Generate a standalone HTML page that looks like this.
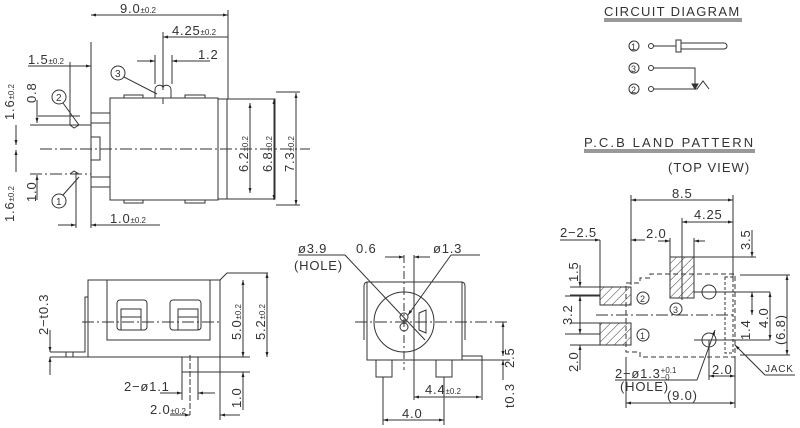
<!DOCTYPE html>
<html><head><meta charset="utf-8"><style>
html,body{margin:0;padding:0;background:#fff;}
svg{display:block;font-family:"Liberation Sans",sans-serif;}
text{fill:#333;font-size:13px;letter-spacing:0.8px;}
.s{font-size:8px;letter-spacing:0;}
</style></head><body>
<svg width="800" height="428" viewBox="0 0 800 428" xmlns="http://www.w3.org/2000/svg">
<defs>
<marker id="a" viewBox="0 0 10 10" refX="10" refY="5" markerWidth="7" markerHeight="5" orient="auto-start-reverse"><path d="M0,2 L10,5 L0,8z" fill="#222"/></marker>
<pattern id="h" width="6" height="6" patternUnits="userSpaceOnUse" patternTransform="rotate(45)"><line x1="0" y1="0" x2="0" y2="6" stroke="#333" stroke-width="1"/></pattern>
</defs>
<g stroke="#333" stroke-width="1" fill="none">
<rect x="110" y="98" width="108" height="102"/>
<rect x="218" y="99" width="57" height="100"/>
<line x1="227" y1="99" x2="227" y2="199"/>
<rect x="124" y="95" width="19" height="3"/><rect x="185" y="95" width="20" height="3"/>
<rect x="124" y="200" width="19" height="3"/><rect x="185" y="200" width="20" height="3"/>
<line x1="91" y1="42" x2="91" y2="228"/>
<path d="M91,113 H110 M91,123 H110 M91,177 H110 M91,187 H110"/>
<path d="M91,137 H100 V160 H91"/>
<path d="M30,125 H91 M30,174 H91 M40,149 H310" stroke-dasharray="12,3,2,3"/>
<path d="M38,125 H91 M38,116 H80"/>
<path d="M70,125 L74,128 L79,125 M70,174 L74,171 L79,174"/>
<path d="M155,90 C155,84 163,84 163,88 C163,84 171,84 171,90 V98 H155z"/>
<line x1="163" y1="98" x2="163" y2="104"/>
<line x1="228" y1="10" x2="228" y2="99"/>
<line x1="91" y1="15" x2="228" y2="15" marker-start="url(#a)" marker-end="url(#a)"/>
<line x1="163" y1="32" x2="163" y2="90"/>
<line x1="163" y1="37" x2="228" y2="37" marker-start="url(#a)"/>
<line x1="155" y1="55" x2="155" y2="84"/><line x1="172" y1="55" x2="172" y2="84"/>
<line x1="137" y1="61" x2="155" y2="61" marker-end="url(#a)"/>
<line x1="172" y1="61" x2="210" y2="61" marker-start="url(#a)"/>
<line x1="70" y1="62" x2="70" y2="125"/>
<line x1="28" y1="66" x2="91" y2="66"/>
<line x1="72" y1="66" x2="91" y2="66" marker-end="url(#a)"/>
<line x1="76" y1="172" x2="76" y2="228"/>
<line x1="58" y1="225" x2="76" y2="225" marker-end="url(#a)"/>
<line x1="91" y1="225" x2="160" y2="225" marker-start="url(#a)"/>
<line x1="16" y1="125" x2="16" y2="145" marker-end="url(#a)"/>
<line x1="16" y1="150" x2="16" y2="172" marker-start="url(#a)"/>
<line x1="37" y1="100" x2="37" y2="123" marker-end="url(#a)"/>
<line x1="37" y1="175" x2="37" y2="200" marker-start="url(#a)"/>
<line x1="276" y1="92" x2="300" y2="92"/><line x1="276" y1="205" x2="300" y2="205"/>
<line x1="250" y1="103" x2="250" y2="193" marker-start="url(#a)" marker-end="url(#a)"/>
<line x1="274" y1="99" x2="274" y2="200" marker-start="url(#a)" marker-end="url(#a)"/>
<line x1="296" y1="93" x2="296" y2="205" marker-start="url(#a)" marker-end="url(#a)"/>
<circle cx="59" cy="97" r="7"/><line x1="63" y1="103" x2="79" y2="125"/>
<circle cx="59" cy="201" r="7"/><line x1="63" y1="195" x2="79" y2="177"/>
<circle cx="118" cy="73" r="7"/><line x1="124" y1="77" x2="157" y2="94"/>
<rect x="88" y="280" width="132" height="77"/>
<rect x="107" y="280" width="103" height="60"/>
<rect x="117" y="300" width="30" height="30" rx="3"/><rect x="121" y="309" width="20" height="21"/><line x1="121" y1="317" x2="141" y2="317"/>
<rect x="170" y="300" width="31" height="30" rx="3"/><rect x="178" y="309" width="20" height="21"/><line x1="178" y1="317" x2="198" y2="317"/>
<path d="M220,280 L227,273 H268"/>
<path d="M50,352 H85 V297 H88 M50,357 H88 M66,352 V357 M73,352 V357"/>
<line x1="82" y1="322" x2="220" y2="322" stroke-dasharray="12,3,2,3"/>
<rect x="182" y="357" width="16" height="15"/>
<line x1="190" y1="355" x2="190" y2="415" stroke-dasharray="6,2"/>
<line x1="182" y1="372" x2="182" y2="400"/><line x1="198" y1="372" x2="198" y2="400"/>
<line x1="160" y1="393" x2="182" y2="393" marker-end="url(#a)"/>
<line x1="198" y1="393" x2="215" y2="393" marker-start="url(#a)"/>
<line x1="220" y1="357" x2="220" y2="420"/>
<line x1="170" y1="415" x2="190" y2="415" marker-end="url(#a)"/>
<line x1="220" y1="415" x2="240" y2="415" marker-start="url(#a)"/>
<line x1="220" y1="357" x2="250" y2="357"/><line x1="198" y1="372" x2="250" y2="372"/>
<line x1="243" y1="280" x2="243" y2="357" marker-start="url(#a)" marker-end="url(#a)"/>
<line x1="267" y1="273" x2="267" y2="357" marker-start="url(#a)" marker-end="url(#a)"/>
<line x1="243" y1="372" x2="243" y2="410" marker-start="url(#a)"/>
<line x1="50" y1="330" x2="50" y2="352" marker-end="url(#a)"/>
<line x1="50" y1="357" x2="50" y2="375" marker-start="url(#a)"/>
<rect x="367" y="282" width="95" height="78"/>
<path d="M364,340 V286 Q364,282 368,282 M465,340 V286 Q465,282 461,282"/>
<circle cx="404" cy="322" r="30"/>
<ellipse cx="404" cy="317" rx="4" ry="4"/><ellipse cx="404" cy="327" rx="4" ry="4"/>
<path d="M419,313 L426,310 V333 L419,330z"/>
<line x1="355" y1="322" x2="510" y2="322" stroke-dasharray="12,3,2,3"/>
<line x1="404" y1="255" x2="404" y2="370" stroke-dasharray="8,3,2,3"/>
<line x1="414" y1="255" x2="414" y2="400"/>
<path d="M376,360 V377 H392 V360 M436,360 V377 H452 V360"/>
<path d="M462,356 H482 V360 H462"/>
<line x1="482" y1="360" x2="510" y2="360"/>
<line x1="383" y1="377" x2="383" y2="425"/><line x1="444" y1="377" x2="444" y2="425"/>
<line x1="383" y1="420" x2="444" y2="420" marker-start="url(#a)" marker-end="url(#a)"/>
<line x1="482" y1="360" x2="482" y2="400"/>
<line x1="414" y1="397" x2="481" y2="397" marker-start="url(#a)" marker-end="url(#a)"/>
<line x1="503" y1="322" x2="503" y2="356" marker-start="url(#a)" marker-end="url(#a)"/>
<line x1="503" y1="360" x2="503" y2="380" marker-start="url(#a)"/>
<line x1="385" y1="257" x2="404" y2="257" marker-end="url(#a)"/>
<line x1="414" y1="257" x2="430" y2="257" marker-start="url(#a)"/>
<line x1="298" y1="255" x2="345" y2="255"/>
<line x1="345" y1="255" x2="425" y2="340"/>
<line x1="451" y1="255" x2="408" y2="315" marker-end="url(#a)"/>
<line x1="451" y1="255" x2="480" y2="255"/>
<line x1="604" y1="19" x2="742" y2="19"/><line x1="604" y1="21" x2="742" y2="21"/>
<circle cx="634" cy="46" r="5"/><circle cx="651" cy="46" r="2.5"/>
<path d="M653,46 H676 M676,40 H681 V52 H676z M681,43 H724 A3,3 0 0 1 724,49 H681"/>
<circle cx="634" cy="68" r="5"/><circle cx="651" cy="68" r="2.5"/>
<path d="M653,68 H695 V88"/>
<path d="M692,84 L695,89 L698,84z" fill="#333"/>
<circle cx="634" cy="89" r="5"/><circle cx="651" cy="89" r="2.5"/>
<path d="M653,89 H697 L703,81 L709,89"/>
<line x1="584" y1="150" x2="755" y2="150"/><line x1="584" y1="152" x2="755" y2="152"/>
<path d="M626,283 H640 V278 H650 V274 H735 V357 H640 V352 H626z" stroke-dasharray="5,3"/>
<rect x="725" y="277" width="8" height="76" stroke-dasharray="3,2"/>
<rect x="600" y="287" width="31" height="18" fill="url(#h)"/>
<rect x="600" y="323" width="31" height="22" fill="url(#h)"/>
<rect x="670" y="257" width="24" height="41" fill="url(#h)"/>
<circle cx="709" cy="292" r="7"/><circle cx="709" cy="340" r="7"/>
<line x1="596" y1="315" x2="735" y2="315" stroke-dasharray="12,3,2,3"/>
<line x1="631" y1="195" x2="631" y2="285"/><line x1="733" y1="195" x2="733" y2="280"/>
<line x1="631" y1="200" x2="733" y2="200" marker-start="url(#a)" marker-end="url(#a)"/>
<line x1="682" y1="218" x2="682" y2="300"/>
<line x1="682" y1="222" x2="733" y2="222" marker-start="url(#a)" marker-end="url(#a)"/>
<line x1="670" y1="238" x2="670" y2="257"/><line x1="694" y1="238" x2="694" y2="257"/>
<line x1="658" y1="241" x2="670" y2="241" marker-end="url(#a)"/>
<line x1="694" y1="241" x2="705" y2="241" marker-start="url(#a)"/>
<line x1="600" y1="240" x2="600" y2="287"/>
<line x1="560" y1="240" x2="600" y2="240"/>
<line x1="585" y1="240" x2="600" y2="240" marker-end="url(#a)"/>
<line x1="631" y1="240" x2="645" y2="240" marker-start="url(#a)"/>
<line x1="694" y1="257" x2="756" y2="257"/>
<line x1="694" y1="292" x2="770" y2="292"/>
<line x1="694" y1="340" x2="770" y2="340"/>
<line x1="740" y1="275" x2="790" y2="275"/><line x1="740" y1="355" x2="790" y2="355"/>
<line x1="752" y1="230" x2="752" y2="257" marker-end="url(#a)"/>
<line x1="752" y1="292" x2="752" y2="315" marker-start="url(#a)" marker-end="url(#a)"/>
<line x1="770" y1="292" x2="770" y2="340" marker-start="url(#a)" marker-end="url(#a)"/>
<line x1="787" y1="275" x2="787" y2="355" marker-start="url(#a)" marker-end="url(#a)"/>
<line x1="570" y1="287" x2="600" y2="287"/><line x1="570" y1="295" x2="600" y2="295"/>
<line x1="565" y1="296" x2="600" y2="296"/><line x1="565" y1="334" x2="600" y2="334"/>
<line x1="570" y1="323" x2="600" y2="323"/>
<line x1="580" y1="265" x2="580" y2="287" marker-end="url(#a)"/>
<line x1="580" y1="296" x2="580" y2="334" marker-start="url(#a)" marker-end="url(#a)"/>
<line x1="580" y1="345" x2="580" y2="370" marker-start="url(#a)"/>
<line x1="570" y1="345" x2="600" y2="345"/>
<line x1="626" y1="357" x2="626" y2="408"/><line x1="735" y1="357" x2="735" y2="408"/>
<line x1="626" y1="403" x2="735" y2="403" marker-start="url(#a)" marker-end="url(#a)"/>
<line x1="709" y1="340" x2="709" y2="380"/>
<line x1="709" y1="376" x2="735" y2="376" marker-start="url(#a)" marker-end="url(#a)"/>
<line x1="615" y1="380" x2="697" y2="380"/>
<line x1="697" y1="380" x2="715" y2="330" marker-end="url(#a)"/>
<line x1="735" y1="345" x2="765" y2="375" marker-start="url(#a)"/>
<line x1="765" y1="375" x2="795" y2="375"/>
<circle cx="643" cy="298" r="6"/><circle cx="643" cy="335" r="6"/><circle cx="676" cy="309" r="6"/>
</g>
<g>
<text x="120" y="13">9.0<tspan class="s">±0.2</tspan></text>
<text x="172" y="35">4.25<tspan class="s">±0.2</tspan></text>
<text x="198" y="59">1.2</text>
<text x="28" y="64">1.5<tspan class="s">±0.2</tspan></text>
<text x="110" y="223">1.0<tspan class="s">±0.2</tspan></text>
<text x="56" y="101" style="font-size:10px">2</text>
<text x="56" y="205" style="font-size:10px">1</text>
<text x="115" y="77" style="font-size:10px">3</text>
<text transform="translate(14,120) rotate(-90)">1.6<tspan class="s">±0.2</tspan></text>
<text transform="translate(14,222) rotate(-90)">1.6<tspan class="s">±0.2</tspan></text>
<text transform="translate(36,103) rotate(-90)">0.8</text>
<text transform="translate(36,202) rotate(-90)">1.0</text>
<text transform="translate(248,172) rotate(-90)">6.2<tspan class="s">±0.2</tspan></text>
<text transform="translate(272,172) rotate(-90)">6.8<tspan class="s">±0.2</tspan></text>
<text transform="translate(294,172) rotate(-90)">7.3<tspan class="s">±0.2</tspan></text>
<text transform="translate(48,335) rotate(-90)">2−t0.3</text>
<text transform="translate(241,340) rotate(-90)">5.0<tspan class="s">±0.2</tspan></text>
<text transform="translate(265,340) rotate(-90)">5.2<tspan class="s">±0.2</tspan></text>
<text transform="translate(241,408) rotate(-90)">1.0</text>
<text x="124" y="391">2−ø1.1</text>
<text x="150" y="414">2.0<tspan class="s">±0.2</tspan></text>
<text x="298" y="253">ø3.9</text>
<text x="294" y="270">(HOLE)</text>
<text x="356" y="253">0.6</text>
<text x="433" y="253">ø1.3</text>
<text x="425" y="394">4.4<tspan class="s">±0.2</tspan></text>
<text x="402" y="418">4.0</text>
<text transform="translate(514,368) rotate(-90)">2.5</text>
<text transform="translate(514,408) rotate(-90)">t0.3</text>
<text x="604" y="16" textLength="136" lengthAdjust="spacing">CIRCUIT DIAGRAM</text>
<text x="631" y="50" style="font-size:9px">1</text>
<text x="631" y="72" style="font-size:9px">3</text>
<text x="631" y="93" style="font-size:9px">2</text>
<text x="584" y="147" textLength="170" lengthAdjust="spacing">P.C.B LAND PATTERN</text>
<text x="668" y="172" textLength="82" lengthAdjust="spacing">(TOP VIEW)</text>
<text x="672" y="198">8.5</text>
<text x="694" y="219">4.25</text>
<text x="646" y="238">2.0</text>
<text x="560" y="237">2−2.5</text>
<text x="640" y="302" style="font-size:9px">2</text>
<text x="640" y="339" style="font-size:9px">1</text>
<text x="673" y="313" style="font-size:9px">3</text>
<text transform="translate(750,250) rotate(-90)">3.5</text>
<text transform="translate(750,340) rotate(-90)">1.4</text>
<text transform="translate(768,328) rotate(-90)">4.0</text>
<text transform="translate(785,345) rotate(-90)">(6.8)</text>
<text transform="translate(578,282) rotate(-90)">1.5</text>
<text transform="translate(572,325) rotate(-90)">3.2</text>
<text transform="translate(578,372) rotate(-90)">2.0</text>
<text x="615" y="378">2−ø1.3<tspan class="s" dy="-5">+0.1</tspan><tspan class="s" dx="-16" dy="7">−0</tspan></text>
<text x="620" y="391">(HOLE)</text>
<text x="712" y="374">2.0</text>
<text x="667" y="400">(9.0)</text>
<text x="765" y="372" style="font-size:10px">JACK</text>
</g>
</svg>
</body></html>
